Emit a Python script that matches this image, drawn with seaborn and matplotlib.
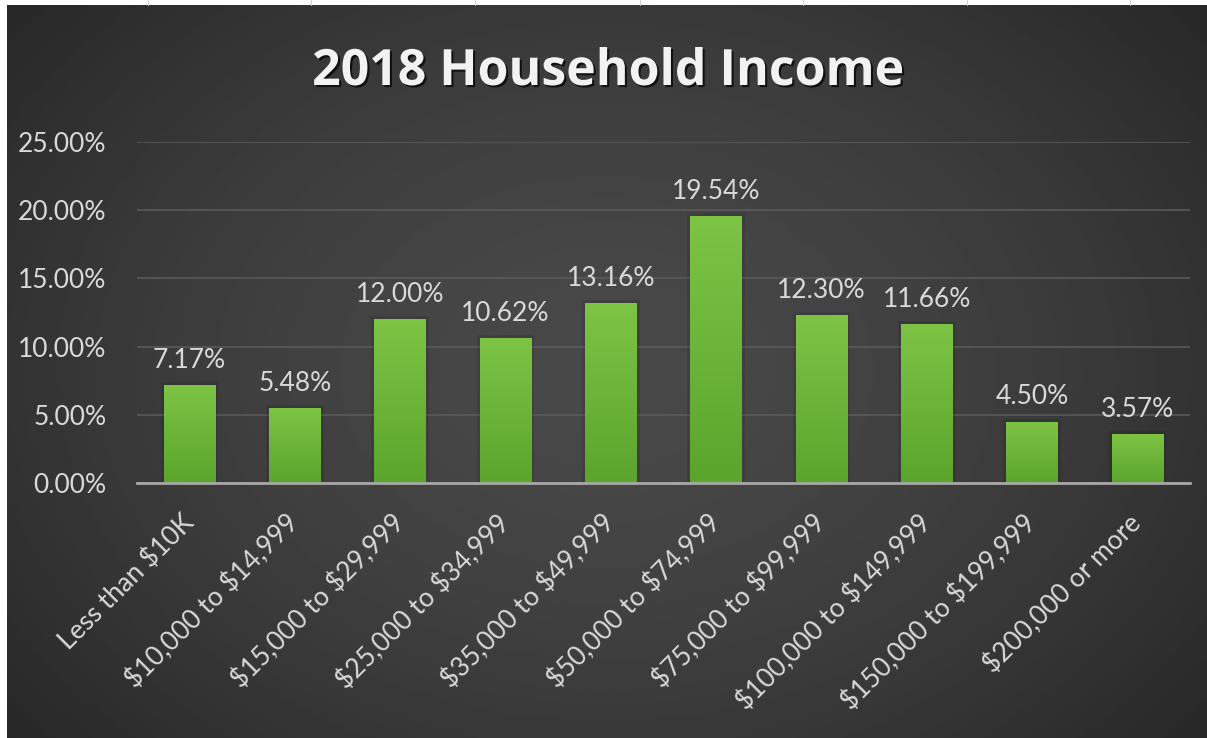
import numpy as np
import pandas as pd
import matplotlib
matplotlib.use("Agg")
import matplotlib.pyplot as plt
import matplotlib.patheffects as pe
from matplotlib.colors import LinearSegmentedColormap
import seaborn as sns

# -------------------------
# DATA
# -------------------------
brackets = ["Less than $10K", "$10,000 to $14,999", "$15,000 to $29,999",
            "$25,000 to $34,999", "$35,000 to $49,999", "$50,000 to $74,999",
            "$75,000 to $99,999", "$100,000 to $149,999", "$150,000 to $199,999",
            "$200,000 or more"]
shares = [7.17, 5.48, 12.00, 10.62, 13.16, 19.54, 12.30, 11.66, 4.50, 3.57]
y_ticks = [0, 5, 10, 15, 20, 25]
title = "2018 Household Income"

df = pd.DataFrame({"bracket": brackets, "share": shares})

sns.set_theme(style="dark")
plt.rcParams["font.family"] = ["Lato", "DejaVu Sans"]
plt.rcParams["text.parse_math"] = False  # keep the $ signs literal

W, H = 1207, 738
fig = plt.figure(figsize=(W / 100, H / 100), dpi=100)
fig.patch.set_facecolor("white")

# -------------------------
# BACKGROUND (dark radial gradient like the Excel chart style)
# -------------------------
bg = fig.add_axes([0, 0, 1, 1])
bg.set_xlim(0, W)
bg.set_ylim(H, 0)
bg.axis("off")
xx, yy = np.meshgrid(np.linspace(0, 1, 400), np.linspace(0, 1, 250))
r = np.sqrt(((xx - 0.5) / 0.62) ** 2 + ((yy - 0.5) / 0.75) ** 2)
shade = np.clip(0.285 - 0.12 * r ** 1.6, 0.15, 0.3)
bg.imshow(shade, cmap="gray", vmin=0, vmax=1, extent=[7, W, H, 5],
          aspect="auto", interpolation="bilinear")
for cx in [148, 311, 475, 640, 803, 967, 1130]:
    bg.plot([cx, cx], [0, 5], color="#d0d0d0", lw=0.8)

# -------------------------
# BAR CHART
# -------------------------
ax = fig.add_axes([137 / W, 1 - 483 / H, (1190 - 137) / W, (483 - 142) / H])
ax.set_facecolor("none")

sns.barplot(data=df, x="bracket", y="share", color="#6cb53a", width=0.49,
            saturation=1, ax=ax, zorder=3)

green = LinearSegmentedColormap.from_list("g", ["#7dc445", "#5ba52d"])
grad = np.linspace(0, 1, 100).reshape(-1, 1)
for p in ax.patches:
    x0, y0 = p.get_x(), p.get_y()
    w, h = p.get_width(), p.get_height()
    p.set_path_effects([pe.withStroke(linewidth=4, foreground=(0, 0, 0, 0.1))])
    p.set_linewidth(0)
    im = ax.imshow(grad, cmap=green, extent=[x0, x0 + w, y0, y0 + h],
                   aspect="auto", zorder=4)
    im.set_clip_path(p)

ax.set_xlim(-0.5, len(brackets) - 0.5)
ax.set_ylim(0, 25)
ax.set_yticks(y_ticks)
ax.set_yticklabels([f"{t:.2f}%" for t in y_ticks])
ax.grid(axis="y", color="#5c5c5c", lw=1.1, zorder=0)
ax.grid(axis="x", visible=False)
for s in ["top", "right", "left"]:
    ax.spines[s].set_visible(False)
ax.spines["bottom"].set_color("#a8a8a8")
ax.spines["bottom"].set_linewidth(2)
ax.spines["bottom"].set_zorder(5)

ax.tick_params(axis="y", colors="#d9d9d9", labelsize=19, pad=22, length=0)
ax.tick_params(axis="x", colors="#d9d9d9", labelsize=19, pad=26, length=0)
for lbl in ax.get_xticklabels():
    lbl.set_rotation(45)
    lbl.set_ha("right")
    lbl.set_va("center")
    lbl.set_rotation_mode("anchor")
ax.set_xlabel("")
ax.set_ylabel("")

for i, v in enumerate(shares):
    ax.text(i, v + 0.9, f"{v:.2f}%", ha="center", va="bottom",
            color="#d9d9d9", fontsize=19, zorder=6)

fig.text(0.504, 1 - 72 / H, title, ha="center", va="center",
         fontsize=36, fontweight="bold", color="#f2f2f2",
         family=["Open Sans", "DejaVu Sans"],
         path_effects=[pe.withSimplePatchShadow(offset=(1.5, -1.5),
                                                 shadow_rgbFace="black",
                                                 alpha=0.7)])

plt.savefig("out.png", dpi=100, facecolor=fig.get_facecolor())
